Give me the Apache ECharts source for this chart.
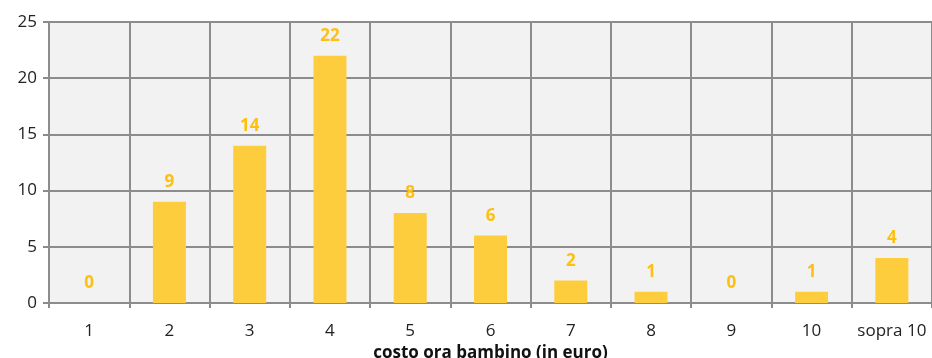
<!DOCTYPE html>
<html><head><meta charset="utf-8">
<script src="https://cdn.jsdelivr.net/npm/echarts@6/dist/echarts.min.js"></script>
<style>html,body{margin:0;padding:0;background:#fff}#c{width:932px;height:358px}</style>
</head><body><div id="c"></div>
<script>
const categories = ['1','2','3','4','5','6','7','8','9','10','sopra 10'];
const values = [0, 9, 14, 22, 8, 6, 2, 1, 0, 1, 4];
const yTicks = {min: 0, max: 25, interval: 5};
const xName = 'costo ora bambino (in euro)';

const chart = echarts.init(document.getElementById('c'));
chart.setOption({
  animation: false,
  grid: {left: 49, right: 0, top: 22, bottom: 55, show: true, backgroundColor: '#f2f2f2', borderWidth: 0, outerBoundsMode: 'none', containLabel: false},
  xAxis: {
    type: 'category', data: categories,
    name: xName, nameLocation: 'middle', nameGap: 40,
    nameTextStyle: {fontFamily: 'Open Sans', fontWeight: 'bold', fontSize: 17, color: '#111'},
    axisLine: {lineStyle: {color: '#8c8c8c', width: 2}},
    axisTick: {show: true, length: 5, lineStyle: {color: '#8c8c8c', width: 2}},
    splitLine: {show: true, interval: 0, lineStyle: {color: '#8c8c8c', width: 2}},
    axisLabel: {fontFamily: 'Open Sans', fontSize: 17, color: '#222', margin: 20, interval: 0}
  },
  yAxis: {
    type: 'value', min: yTicks.min, max: yTicks.max, interval: yTicks.interval,
    axisLine: {show: false},
    axisTick: {show: true, length: 6, lineStyle: {color: '#8c8c8c', width: 2}},
    splitLine: {show: true, lineStyle: {color: '#8c8c8c', width: 2}},
    axisLabel: {fontFamily: 'Open Sans', fontSize: 17, color: '#222', margin: 12}
  },
  series: [{
    type: 'bar', data: values, barWidth: 33,
    itemStyle: {color: '#fecd3e'},
    label: {show: true, position: 'top', distance: 11, color: '#fdc012', fontWeight: 'bold', fontSize: 17, fontFamily: 'Open Sans'}
  }]
});
</script></body></html>
